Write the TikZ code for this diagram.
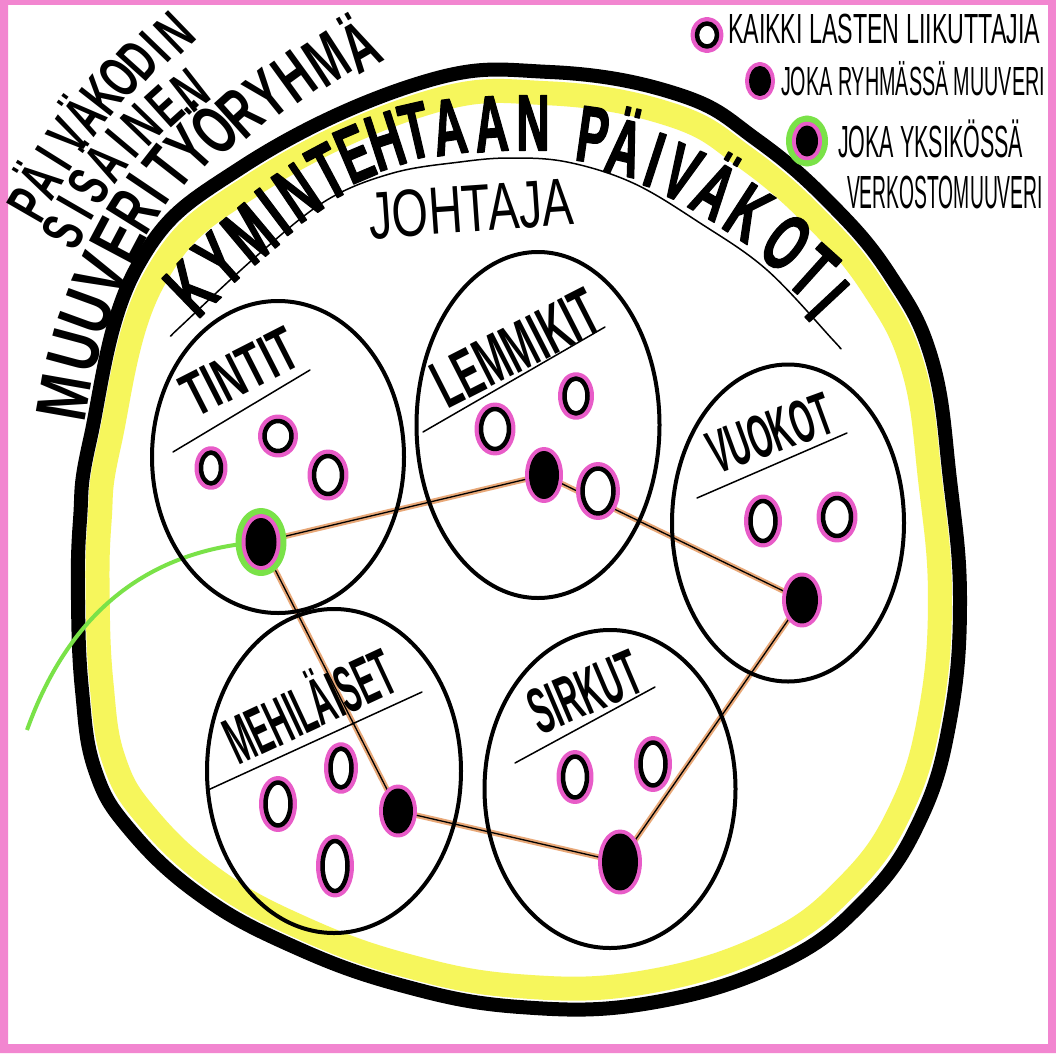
\documentclass[tikz,border=0pt]{standalone}
\usepackage{fontspec}
\usepackage{graphicx}
\usetikzlibrary{shapes.geometric}
\newfontfamily\hand{Liberation Sans}
\newfontfamily\condf{Liberation Sans}[FakeStretch=0.62]
\newfontfamily\condg{Liberation Sans}[FakeStretch=0.63]
\newfontfamily\condw{Liberation Sans}[FakeStretch=0.74]
\newfontfamily\titlef{Liberation Sans}[FakeStretch=0.58, FakeBold=1.5]
\definecolor{framepink}{RGB}{242,134,208}
\definecolor{dotpink}{RGB}{232,92,200}
\definecolor{hiyellow}{RGB}{246,246,92}
\definecolor{mgreen}{RGB}{122,226,72}
\definecolor{linetan}{RGB}{232,168,120}
\pgfdeclarelayer{bg}\pgfdeclarelayer{mid}\pgfsetlayers{bg,mid,main}
\newcommand\fitt[4][\hand]{\resizebox{#2}{#3}{#1\raisebox{0pt}[\fontcharht\font`H][0pt]{#4}}}
\tikzset{
  every node/.style={inner sep=0pt, outer sep=0pt},
  dsz/.style 2 args={minimum width=#1pt, minimum height=#2pt},
  grp/.style={ellipse, draw=black, line width=4pt},
  odot/.style={ellipse, draw=black, line width=4.5pt, fill=white, preaction={draw=dotpink, line width=13pt}},
  fdot/.style={ellipse, draw=black, line width=4pt, fill=black, preaction={draw=dotpink, line width=12pt}},
  gdot/.style={ellipse, draw=black, line width=4pt, fill=black, preaction={draw=mgreen, line width=24pt}, preaction={draw=dotpink, line width=12pt}},
  conn/.style={draw=linetan, line width=5.5pt, postaction={draw=black, line width=1.3pt}},
  uline/.style={draw=black, line width=1.5pt},
  ttl/.style={font=\titlef\bfseries\fontsize{80pt}{80pt}\selectfont, text height=57pt, text depth=0pt},
  sidea/.style={font=\condf\bfseries\fontsize{59pt}{59pt}\selectfont, text height=42pt, text depth=0pt},
  sideb/.style={font=\condg\bfseries\fontsize{70pt}{70pt}\selectfont, text height=50pt, text depth=0pt},
  sidew/.style={font=\condw\bfseries\fontsize{72pt}{72pt}\selectfont, text height=52pt, text depth=0pt},
}
\begin{document}
\begin{tikzpicture}[x=1pt, y=-1pt, line cap=round, line join=round]
\useasboundingbox (0,0) rectangle (1056,1057);

\begin{pgfonlayer}{bg}
  \fill[white] (0,0) rectangle (1056,1057);
  \fill[framepink, even odd rule] (0,0) rectangle (1056,1053) (8,5) rectangle (1048,1044);
  \begin{scope}[shift={(515,545)}, scale=0.955, shift={(-515,-545)}]
    \draw[hiyellow, line width=24pt] plot[smooth cycle, tension=0.7] coordinates {(90,440) (137,267) (242,167) (420,83) (550,72) (680,95) (757,140) (830,203) (890,275) (932,360) (950,480) (960,600) (950,720) (920,820) (865,900) (780,963) (650,1003) (520,1007) (400,985) (290,945) (200,895) (130,830) (95,770) (82,690) (78,600) (80,520)};
  \end{scope}
  \draw[black, line width=14pt] plot[smooth cycle, tension=0.7] coordinates {(90,440) (137,267) (242,167) (420,83) (550,72) (680,95) (757,140) (830,203) (890,275) (932,360) (950,480) (960,600) (950,720) (920,820) (865,900) (780,963) (650,1003) (520,1007) (400,985) (290,945) (200,895) (130,830) (95,770) (82,690) (78,600) (80,520)};
\end{pgfonlayer}

% outer texts, letter by letter along the rim
\foreach \c/\x/\y/\r [count=\i] in {P/28/204/60, Ä/40/180/59, I/53/158/58, V/68/136/56, Ä/84/115/54, K/101/95/52, O/119/77/50, D/138/60/48, I/155/46/46, N/174/32/44}
  \node[sidea, rotate=\r] (pa\i) at (\x,\y) {\c};
\foreach \c/\x/\y/\r [count=\i] in {S/63/232/62, I/75/208/60, S/88/186/58, Ä/105/162/54, I/122/143/50, N/142/124/46, E/165/106/42, N/190/90/38}
  \node[sidea, rotate=\r] (pb\i) at (\x,\y) {\c};
\foreach \c/\x/\y/\r [count=\i] in {M/63/397/80, U/73/350/75, U/86/312/70, V/100/275/66, E/117/240/62}
  \node[sidew, rotate=\r] (pc\i) at (\x,\y) {\c};
\foreach \c/\x/\y/\r [count=\i] in {R/133/211/58, I/147/188/56, T/167/167/52, Y/189/148/48, Ö/214/130/45, R/240/112/42, Y/266/94/39, H/294/76/36, M/326/59/33, Ä/360/46/30}
  \node[sideb, rotate=\r] (pd\i) at (\x,\y) {\c};

% title
\draw[uline] plot[smooth, tension=0.6] coordinates {(172,335) (180,327) (260,253) (327,200) (393,173) (460,162) (510,158) (567,162) (633,183) (700,223) (767,270) (833,340) (840,348)};
\foreach \c/\x/\y/\r [count=\i] in {K/190/288/44, Y/218/259/42, M/249/233/40, I/273/211/37, N/297/192/34, T/327/171/28, E/354/153/23, H/385/140/18, T/415/130/13, A/449/126/8, A/491/123/4, N/533/122/0, P/593/134/-8, Ä/625/147/-13, I/655/159/-18, V/682/172/-24, Ä/715/190/-30, K/749/212/-33, O/787/242/-37, T/814/271/-42, I/828/300/-47}
  \node[ttl, rotate=\r] (ti\i) at (\x,\y) {\c};
\node[rotate=4] (joh) at (471,209) {\fitt{205pt}{46pt}{JOHTAJA}};

% legend
\node[odot, dsz={20}{23}] (k1) at (707,35) {};
\node[anchor=west] (k1t) at (728,29) {\fitt{312pt}{29pt}{KAIKKI LASTEN LIIKUTTAJIA}};
\node[fdot, dsz={18}{26}] (k2) at (760,81) {};
\node[anchor=west] (k2t) at (781,81) {\fitt{264pt}{28pt}{JOKA RYHMÄSSÄ MUUVERI}};
\node[gdot, dsz={18}{27}] (k3) at (807,141) {};
\node[anchor=west] (k3t) at (838,142) {\fitt{185pt}{31pt}{JOKA YKSIKÖSSÄ}};
\node[anchor=west] (k3u) at (847,192) {\fitt{196pt}{32pt}{VERKOSTOMUUVERI}};

% groups
\node[grp, dsz={252}{312}] (gT) at (278,457) {};
\node[grp, dsz={243}{346}] (gL) at (538,425) {};
\node[grp, dsz={232}{317}] (gV) at (788,523) {};
\node[grp, dsz={254}{324}] (gM) at (334,771) {};
\node[grp, dsz={251}{318}] (gS) at (610,789) {};

\node[rotate=27] (lT) at (240,372) {\fitt[\hand\bfseries]{122pt}{43pt}{TINTIT}};
\draw[uline] (173,452) -- (310,370);
\node[rotate=27] (lL) at (516,348) {\fitt[\hand\bfseries]{178pt}{47pt}{LEMMIKIT}};
\draw[uline] (423,432) -- (605,327);
\node[rotate=20] (lV) at (770,433) {\fitt[\hand\bfseries]{128pt}{42pt}{VUOKOT}};
\draw[uline] (697,498) -- (847,433);
\node[rotate=25] (lM) at (310,707) {\fitt[\hand\bfseries]{180pt}{46pt}{MEHILÄISET}};
\draw[uline] (208,790) -- (422,692);
\node[rotate=23] (lS) at (585,692) {\fitt[\hand\bfseries]{115pt}{45pt}{SIRKUT}};
\draw[uline] (515,763) -- (655,687);

% dots
\node[odot, dsz={20}{31}] (t1) at (211,468) {};
\node[odot, dsz={27}{30}] (t2) at (278,436) {};
\node[odot, dsz={28}{38}] (t3) at (328,475) {};
\node[gdot, dsz={27}{44}] (tg) at (261,542) {};
\node[odot, dsz={28}{40}] (l1) at (495,429) {};
\node[odot, dsz={23}{35}] (l2) at (576,396) {};
\node[odot, dsz={31}{45}] (l3) at (598,491) {};
\node[fdot, dsz={26}{44}] (lf) at (544,475) {};
\node[odot, dsz={25}{40}] (v1) at (763,521) {};
\node[odot, dsz={28}{38}] (v2) at (837,517) {};
\node[fdot, dsz={28}{43}] (vf) at (802,600) {};
\node[odot, dsz={25}{43}] (m1) at (278,804) {};
\node[odot, dsz={21}{39}] (m2) at (341,768) {};
\node[odot, dsz={25}{50}] (m3) at (335,866) {};
\node[fdot, dsz={26}{41}] (mf) at (398,811) {};
\node[odot, dsz={24}{41}] (s1) at (575,777) {};
\node[odot, dsz={25}{43}] (s2) at (653,764) {};
\node[fdot, dsz={32}{53}] (sf) at (620,862) {};

\coordinate (gEnd) at (27,730);
\begin{pgfonlayer}{mid}
  \draw[conn] (tg.center) -- (lf.center);
  \draw[conn] (lf.center) -- (vf.center);
  \draw[conn] (vf.center) -- (sf.center);
  \draw[conn] (sf.center) -- (mf.center);
  \draw[conn] (mf.center) -- (tg.center);
  \draw[mgreen, line width=4pt] (tg.center) .. controls (150,550) and (70,610) .. (gEnd);
\end{pgfonlayer}
\end{tikzpicture}
\end{document}
